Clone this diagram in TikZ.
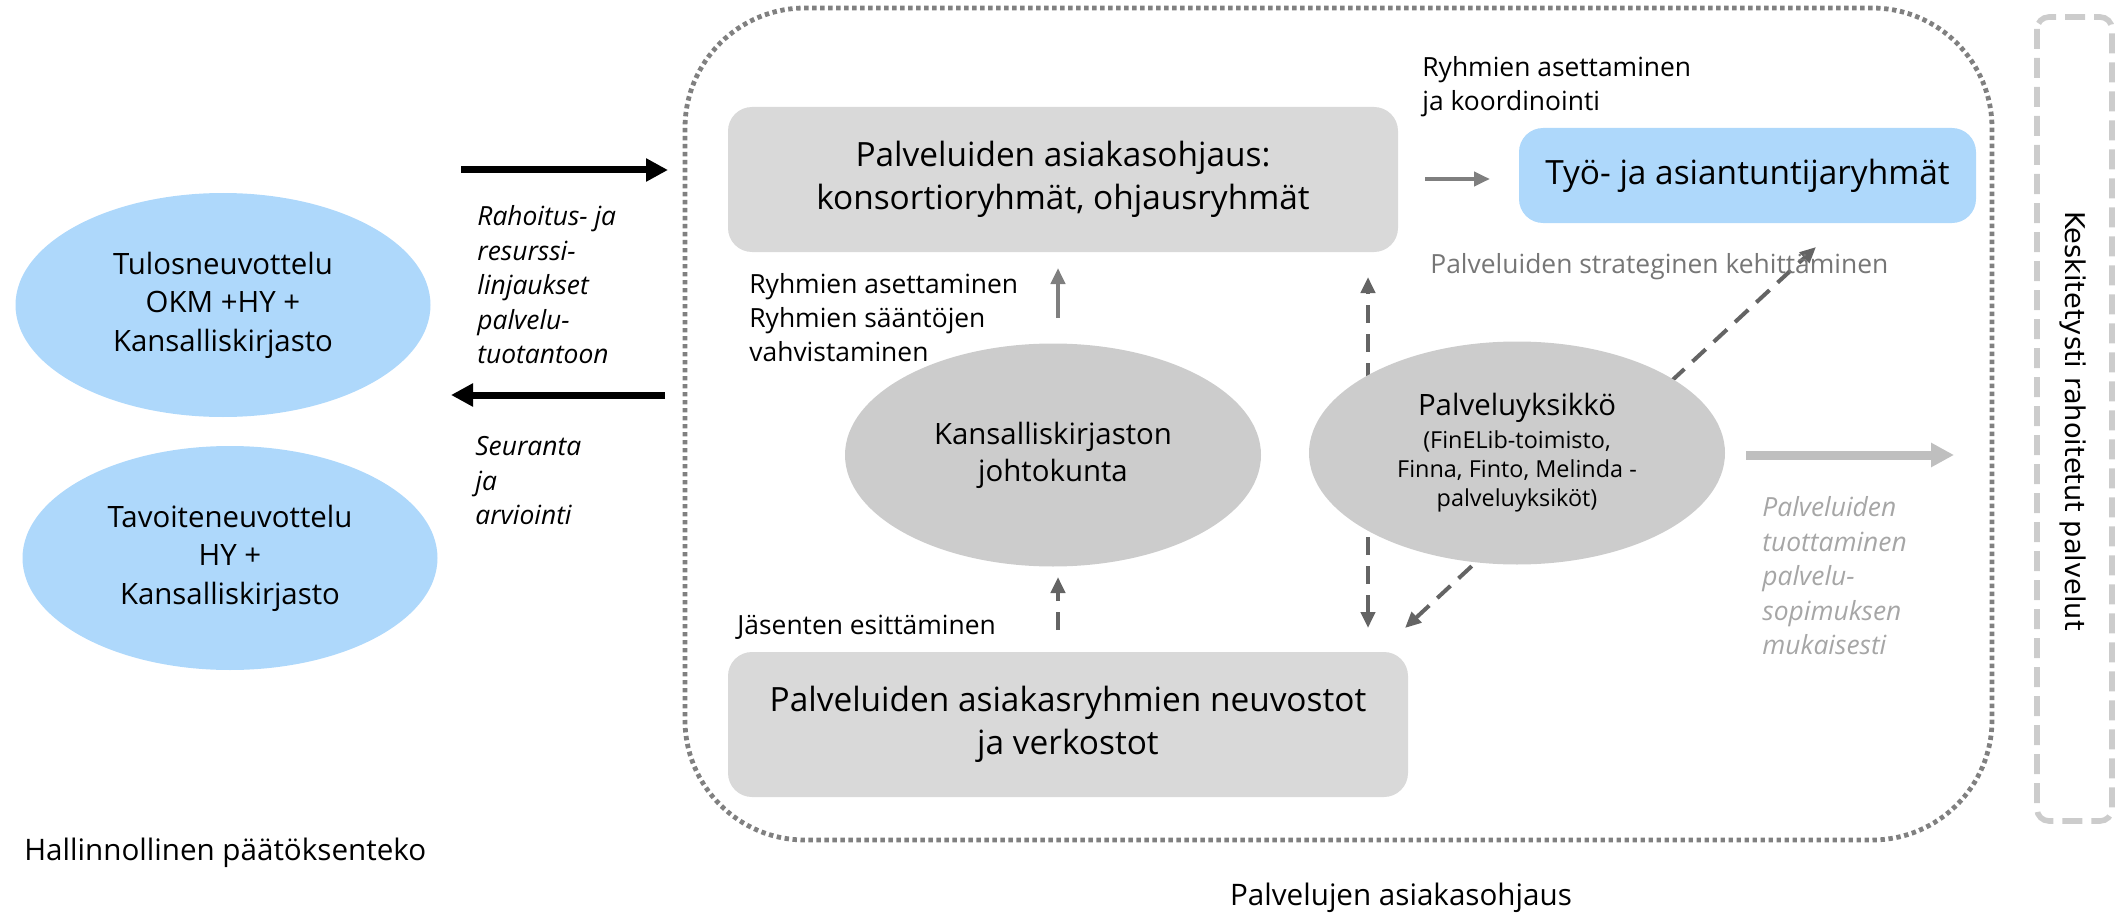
\documentclass[tikz,border=0pt]{standalone}
\usepackage{fontspec}
\setmainfont{Open Sans}
\newfontfamily\dejavu{DejaVu Sans}
\usetikzlibrary{arrows.meta,shapes.geometric}
\definecolor{lblue}{RGB}{174,216,251}
\definecolor{boxgray}{RGB}{217,217,217}
\definecolor{ellgray}{RGB}{204,204,204}
\definecolor{dotgray}{RGB}{128,128,128}
\definecolor{arrgray}{RGB}{127,127,127}
\definecolor{dashgray}{RGB}{100,100,100}
\definecolor{lightarr}{RGB}{191,191,191}
\definecolor{frame}{RGB}{204,204,204}
\definecolor{txtgray}{RGB}{118,118,118}
\definecolor{txtlgray}{RGB}{166,166,166}
\newcommand\pysmall{\fontsize{11.7}{14}\selectfont}
\tikzset{
  box/.style={rectangle, rounded corners=12pt, fill=boxgray, align=center, inner sep=0pt,
    font=\fontsize{16.7}{21.5}\selectfont},
  bluebox/.style={rectangle, rounded corners=12pt, fill=lblue, align=center, inner sep=0pt,
    font=\fontsize{16.7}{19.5}\selectfont},
  grayell/.style={ellipse, fill=ellgray, align=center, inner sep=0pt,
    minimum width=208pt, minimum height=111.5pt, font=\fontsize{14.7}{18.5}\selectfont},
  blueell/.style={ellipse, fill=lblue, align=center, inner sep=0pt,
    minimum width=207.5pt, minimum height=112pt, font=\fontsize{14.7}{19.2}\selectfont},
  lbl/.style={align=left, inner sep=0pt, anchor=west, font=\fontsize{13.2}{17}\selectfont},
  itlbl/.style={align=left, inner sep=0pt, anchor=west, font=\fontsize{13.2}{17.25}\selectfont\itshape},
  bigarrow/.style={line width=3.5pt, -{Triangle[length=11pt,width=11pt]}},
  grayarrow/.style={draw=arrgray, line width=2pt, -{Triangle[length=8pt,width=7pt]}},
  dasharrow/.style={draw=dashgray, line width=2pt, dash pattern=on 9pt off 5.5pt,
    -{Triangle[length=8pt,width=7pt]}},
  dashboth/.style={draw=dashgray, line width=2pt, dash pattern=on 9pt off 5.5pt,
    {Triangle[length=8pt,width=7pt]}-{Triangle[length=8pt,width=7pt]}},
}
\begin{document}
\begin{tikzpicture}[x=0.5pt,y=-0.5pt]
\useasboundingbox (0,0) rectangle (2116,915);

% outer frames
\draw[dotgray, line width=2.4pt, dash pattern=on 2.2pt off 1.8pt, rounded corners=60pt]
  (685,8) rectangle (1992,840);
\draw[frame, line width=2.8pt, dash pattern=on 10pt off 4.5pt, rounded corners=6pt]
  (2037,17) rectangle (2112,821);
\node[rotate=-90, inner sep=0pt, font=\dejavu\fontsize{13.6}{16}\selectfont] (kesk) at (2073,421)
  {Keskitetysti rahoitetut palvelut};

% left ellipses
\node[blueell] (tulos) at (223,305) {Tulosneuvottelu\\OKM +HY +\\Kansalliskirjasto};
\node[blueell] (tavoite) at (230,558) {Tavoiteneuvottelu\\HY +\\Kansalliskirjasto};

% big black arrows
\coordinate (ba1) at (461,170);
\coordinate (ba2) at (668,170);
\coordinate (bb1) at (665,395);
\coordinate (bb2) at (451,395);
\draw[bigarrow] (ba1) -- (ba2);
\draw[bigarrow] (bb1) -- (bb2);
\node[itlbl] (rah) at (477,285) {Rahoitus- ja\\resurssi-\\linjaukset\\palvelu-\\tuotantoon};
\node[itlbl] (seur) at (475,481) {Seuranta\\ja\\arviointi};

% boxes
\node[box, minimum width=335pt, minimum height=72.5pt] (ohj) at (1063,179.5)
  {Palveluiden asiakasohjaus:\\konsortioryhmät, ohjausryhmät};
\node[bluebox, minimum width=228.5pt, minimum height=47.5pt] (tyo) at (1747.5,175.5)
  {Työ- ja asiantuntijaryhmät};
\node[box, minimum width=340pt, minimum height=72.5pt] (neuv) at (1068,724.5)
  {Palveluiden asiakasryhmien neuvostot\\ja verkostot};

% connector end points
\coordinate (ab1) at (1425,179);
\coordinate (ab2) at (1490,179);
\coordinate (ka1) at (1058,318);
\coordinate (ka2) at (1058,268);
\coordinate (jk1) at (1058,630);
\coordinate (jk2) at (1058,577);
\coordinate (v1) at (1368,277);
\coordinate (v2) at (1368,628);
\coordinate (d1) at (1405,628);
\coordinate (d2) at (1816,247);
\coordinate (lg1) at (1746,455);
\coordinate (lg2) at (1954,455);

\draw[dashboth] (v2) -- (v1);
\draw[dashboth] (d1) -- (d2);

% ellipses in the middle
\node[grayell] (johto) at (1053,455) {Kansalliskirjaston\\johtokunta};
\node[grayell] (pyks) at (1517,453)
  {Palveluyksikkö\\[-2pt]{\pysmall (FinELib-toimisto,}\\[-4pt]{\pysmall Finna, Finto, Melinda -}\\[-4pt]{\pysmall palveluyksiköt)}};

\draw[grayarrow] (ab1) -- (ab2);
\draw[grayarrow] (ka1) -- (ka2);
\draw[dasharrow] (jk1) -- (jk2);
\draw[line width=4.5pt, draw=lightarr, -{Triangle[length=11.5pt,width=11.5pt]}] (lg1) -- (lg2);

% labels
\node[lbl] (koord) at (1422,86.5) {Ryhmien asettaminen\\ja koordinointi};
\node[lbl, text=txtgray] (strat) at (1430,267) {Palveluiden strateginen kehittäminen};
\node[lbl] (saant) at (749,317.5) {Ryhmien asettaminen\\Ryhmien sääntöjen\\vahvistaminen};
\node[lbl] (jas) at (737,627) {Jäsenten esittäminen};
\node[itlbl, text=txtlgray] (tuott) at (1762,576)
  {Palveluiden\\tuottaminen\\palvelu-\\sopimuksen\\mukaisesti};
\node[lbl, font=\fontsize{14.8}{17}\selectfont] (hall) at (24,853) {Hallinnollinen päätöksenteko};
\node[inner sep=0pt, font=\fontsize{14.8}{17}\selectfont] (pasi) at (1401,898) {Palvelujen asiakasohjaus};
\end{tikzpicture}
\end{document}
